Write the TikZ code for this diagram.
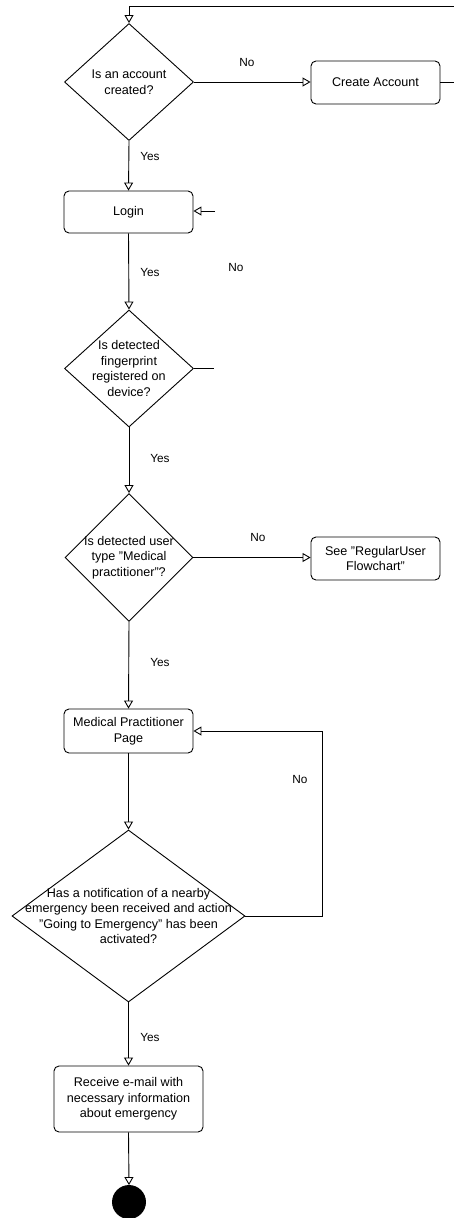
\documentclass[tikz,border=0pt]{standalone}
\usepackage{fontspec}
\setmainfont{Liberation Sans}
\usetikzlibrary{shapes.geometric}
\usetikzlibrary{arrows.meta}
\newcommand{\dq}{\symbol{34}}

\begin{document}
\begin{tikzpicture}[x=1pt,y=-1pt,line width=0.9pt,
    font=\fontsize{12.6}{15.5}\selectfont,
    box/.style={draw,rounded corners=5pt,minimum width=129pt,minimum height=43pt,align=center,inner sep=2pt},
    decision/.style={draw,diamond,inner sep=0pt},
    qtext/.style={align=center,inner sep=0pt},
    lbl/.style={font=\fontsize{11.8}{13}\selectfont},
    flow/.style={-{Triangle[open,length=8pt,width=9pt]}}]
    \useasboundingbox (0,0) rectangle (454,1218);
    \node[decision,minimum width=129pt,minimum height=117pt] (account) at (129,82) {};
    \node[qtext] (accounttxt) at (account) {Is an account\\created?};
    \node[box] (create) at (375.5,82.5) {Create Account};
    \node[box,minimum height=42pt] (login) at (128.5,212) {Login};
    \node[decision,minimum width=129pt,minimum height=117pt] (finger) at (129,368.5) {};
    \node[qtext] (fingertxt) at (finger) {Is detected\\fingerprint\\registered on\\device?};
    \node[decision,minimum width=128pt,minimum height=128pt] (usertype) at (129,557.5) {};
    \node[qtext] (usertypetxt) at (usertype) {Is detected user\\type \dq Medical\\practitioner\dq ?};
    \node[box] (regular) at (375.5,558.5) {See \dq RegularUser\\Flowchart\dq};
    \node[box,minimum height=44pt] (mppage) at (128.5,731) {Medical Practitioner\\Page};
    \node[decision,minimum width=233pt,minimum height=172pt] (notif) at (128.5,916) {};
    \node[qtext] (notiftxt) at (notif) {Has a notification of a nearby\\emergency been received and action\\\dq Going to Emergency\dq{} has been\\activated?};
    \node[box,minimum width=149pt,minimum height=66pt] (email) at (128.5,1099) {Receive e-mail with\\necessary information\\about emergency};
    \node[circle,draw,fill=black,minimum size=33pt,inner sep=0pt] (stop) at (129,1202) {};
    \coordinate (topright) at (454,6);
    \coordinate (createout) at (454,82.5);
    \coordinate (loginin) at (215,211);
    \coordinate (fingerout) at (214,368.5);
    \coordinate (loopx) at (322,916);
    \draw[flow] (topright) -- (account.north |- topright) -- (account.north);
    \draw[flow] (account.east) -- (create.west |- account.east);
    \draw (create.east) -- (createout);
    \draw[flow] (account.south) -- (login.north);
    \draw[flow] (loginin) -- (login.east |- loginin);
    \draw[flow] (login.south) -- (finger.north);
    \draw (finger.east) -- (fingerout);
    \draw[flow] (finger.south) -- (usertype.north);
    \draw[flow] (usertype.east) -- (regular.west |- usertype.east);
    \draw[flow] (usertype.south) -- (mppage.north);
    \draw[flow] (mppage.south) -- (notif.north);
    \draw[flow] (notif.east) -- (loopx) -- (loopx |- mppage.east) -- (mppage.east);
    \draw[flow] (notif.south) -- (email.north);
    \draw[flow] (email.south) -- (stop.north);
    \node[lbl] (no1) at (247,62) {No};
    \node[lbl] (yes1) at (150,156) {Yes};
    \node[lbl] (yes2) at (150,272) {Yes};
    \node[lbl] (no2) at (236,267) {No};
    \node[lbl] (yes3) at (160,458) {Yes};
    \node[lbl] (no3) at (258,537) {No};
    \node[lbl] (yes4) at (160,662) {Yes};
    \node[lbl] (no4) at (300,779) {No};
    \node[lbl] (yes5) at (150,1037) {Yes};
\end{tikzpicture}
\end{document}
